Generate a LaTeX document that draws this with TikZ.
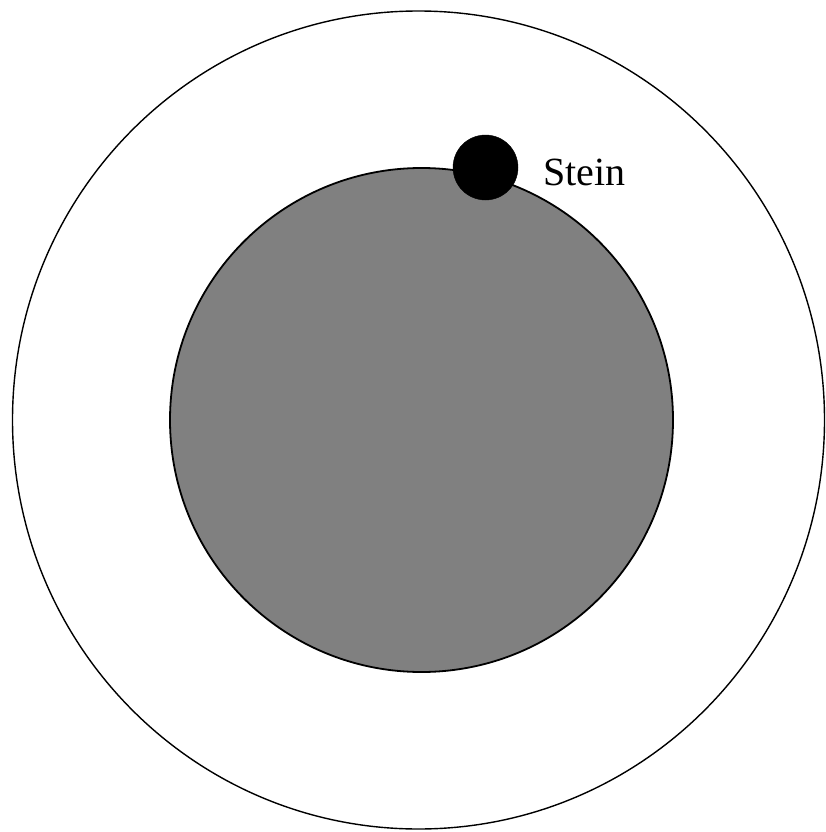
\documentclass[tikz,border=0pt]{standalone}
\usepackage{fontspec}
\setmainfont{Liberation Serif}
\begin{document}
\begin{tikzpicture}[x=1pt,y=-1pt,
  ring/.style={draw=black,line width=1.4pt},
  core/.style={draw=black,line width=1.8pt,fill=gray50},
  stone/.style={fill=black,draw=black}]
\definecolor{gray50}{RGB}{128,128,128}
\useasboundingbox (0,0) rectangle (826,832);
\draw[ring] (418.5,420) ellipse [x radius=406, y radius=409];
\draw[core] (421.5,420) ellipse [x radius=251.5, y radius=252];
\fill[stone] (485.5,167.5) circle [radius=32.5];
\node[anchor=base west,inner sep=0pt,font=\fontsize{40}{48}\selectfont] (stein) at (543,185) {Stein};
\end{tikzpicture}
\end{document}
